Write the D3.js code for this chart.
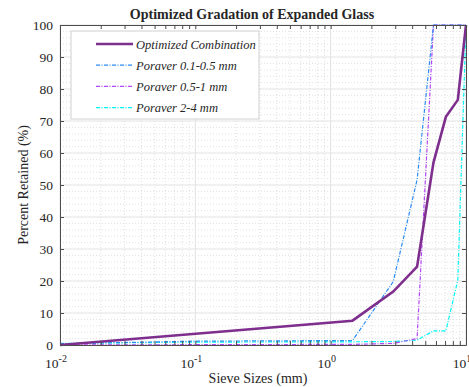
<!DOCTYPE html>
<html>
<head>
<meta charset="utf-8">
<script src="https://cdn.jsdelivr.net/npm/d3@7"></script>
<style>
  body { margin: 0; background: #fff; }
  text { font-family: "Liberation Serif", "Times New Roman", serif; fill: #262626; }
</style>
</head>
<body>
<div id="chart"></div>
<script>
// svg container dimensions
var svgWidth = 469,
	svgHeight = 387;

var margin = { top: 25, right: 3, bottom: 42, left: 60 };

var width = svgWidth - margin.left - margin.right,
	height = svgHeight - margin.top - margin.bottom;

// data
var sieveSizes = [0.01, 1.45, 2.9, 4.35, 5.75, 7.1, 8.7, 10];
var optimized = [0, 7.6, 16.7, 24.5, 57, 71.3, 76.6, 100];

var finesSizes = [0.01, 0.1, 1.45, 2.9, 4.35, 5.75, 7.1, 8.7, 10];
var poraver01 = [0.4, 1.2, 1.4, 19.8, 51.6, 100, 100, 100, 100];
var poraver05 = [0, 0.1, 0.2, 0.5, 2, 100, 100, 100, 100];
var poraver24 = [0.5, 0.9, 1.0, 1.1, 1.5, 4.4, 4.4, 20.3, 100];

var seriesNames = ['Optimized Combination', 'Poraver 0.1-0.5 mm', 'Poraver 0.5-1 mm', 'Poraver 2-4 mm'];
var yTicks = [0, 10, 20, 30, 40, 50, 60, 70, 80, 90, 100];
var xTicks = [0.01, 0.1, 1, 10];
var xExponents = ['-2', '-1', '0', '1'];

var dashDot = '4,1.5,1,1.5';
var series = [
	{ name: seriesNames[0], x: sieveSizes, y: optimized, color: '#7e2f8e', w: 2.6, dash: null },
	{ name: seriesNames[1], x: finesSizes, y: poraver01, color: '#2b8cf5', w: 1.2, dash: dashDot },
	{ name: seriesNames[2], x: finesSizes, y: poraver05, color: '#b048f8', w: 1.2, dash: dashDot },
	{ name: seriesNames[3], x: finesSizes, y: poraver24, color: '#00f5f5', w: 1.2, dash: dashDot }
];

var svg = d3.select('#chart')
	.append('svg')
	.attr('width', svgWidth)
	.attr('height', svgHeight);

var chartGroup = svg.append('g')
	.attr('transform', `translate(${margin.left},${margin.top})`);

var xScale = d3.scaleLog().domain([0.01, 10]).range([0, width]),
	yScale = d3.scaleLinear().domain([0, 100]).range([height, 0]);

// minor tick values
var xMinor = [];
[0.01, 0.1, 1].forEach(function(b) {
	for (var k = 2; k <= 9; k++) xMinor.push(b * k);
});
var yMinor = d3.range(0, 101, 2).filter(v => v % 10 !== 0);

// grid: minor dotted, major solid
var grid = chartGroup.append('g');
grid.selectAll('.xminor').data(xMinor).enter().append('line')
	.attr('x1', d => xScale(d)).attr('x2', d => xScale(d))
	.attr('y1', 0).attr('y2', height)
	.attr('stroke', '#d4d4d4').attr('stroke-width', 0.7).attr('stroke-dasharray', '1,2');
grid.selectAll('.yminor').data(yMinor).enter().append('line')
	.attr('x1', 0).attr('x2', width)
	.attr('y1', d => yScale(d)).attr('y2', d => yScale(d))
	.attr('stroke', '#d4d4d4').attr('stroke-width', 0.7).attr('stroke-dasharray', '1,2');
grid.selectAll('.xmajor').data(xTicks).enter().append('line')
	.attr('x1', d => xScale(d)).attr('x2', d => xScale(d))
	.attr('y1', 0).attr('y2', height)
	.attr('stroke', '#e2e2e2').attr('stroke-width', 1);
grid.selectAll('.ymajor').data(yTicks).enter().append('line')
	.attr('x1', 0).attr('x2', width)
	.attr('y1', d => yScale(d)).attr('y2', d => yScale(d))
	.attr('stroke', '#e2e2e2').attr('stroke-width', 1);

// lines
var line = d3.line()
	.x(d => xScale(d[0]))
	.y(d => yScale(d[1]));

chartGroup.append('g').selectAll('path')
	.data(series.slice().reverse())
	.enter()
	.append('path')
	.attr('d', s => line(s.x.map((v, i) => [v, s.y[i]])))
	.attr('fill', 'none')
	.attr('stroke', s => s.color)
	.attr('stroke-width', s => s.w)
	.attr('stroke-dasharray', s => s.dash);

// axes with inward ticks on all four sides
var frame = '#4d4d4d';
var bottomAxis = chartGroup.append('g')
	.attr('transform', `translate(0,${height})`)
	.call(d3.axisBottom(xScale).tickValues(xTicks.concat(xMinor)).tickSizeInner(-4).tickSizeOuter(0).tickFormat(''));
var topAxis = chartGroup.append('g')
	.call(d3.axisTop(xScale).tickValues(xTicks.concat(xMinor)).tickSizeInner(-4).tickSizeOuter(0).tickFormat(''));
var leftAxis = chartGroup.append('g')
	.call(d3.axisLeft(yScale).tickValues(yTicks).tickSizeInner(-4).tickSizeOuter(0).tickPadding(7));
var rightAxis = chartGroup.append('g')
	.attr('transform', `translate(${width},0)`)
	.call(d3.axisRight(yScale).tickValues(yTicks).tickSizeInner(-4).tickSizeOuter(0).tickFormat(''));

[bottomAxis, topAxis, leftAxis, rightAxis].forEach(function(a) {
	a.select('.domain').attr('stroke', frame);
	a.selectAll('.tick line').attr('stroke', frame);
});
leftAxis.selectAll('.tick text')
	.style('font-size', '13.5px')
	.attr('fill', '#262626');

// x tick labels as 10 with superscripts
var xLabels = chartGroup.append('g');
xTicks.forEach(function(v, i) {
	var t = xLabels.append('text')
		.attr('x', xScale(v) - 4)
		.attr('y', height + 23)
		.attr('text-anchor', 'middle')
		.style('font-size', '13.5px');
	t.append('tspan').text('10');
	t.append('tspan').attr('dy', -6).style('font-size', '10px').text(xExponents[i]);
});

// title and axis labels
svg.append('text')
	.attr('x', 252)
	.attr('y', 19)
	.attr('text-anchor', 'middle')
	.style('font-size', '14px')
	.style('font-weight', 'bold')
	.attr('fill', '#000')
	.text('Optimized Gradation of Expanded Glass');

svg.append('text')
	.attr('x', 258)
	.attr('y', 383)
	.attr('text-anchor', 'middle')
	.style('font-size', '14px')
	.text('Sieve Sizes (mm)');

svg.append('text')
	.attr('transform', `translate(28,${margin.top + height / 2})rotate(-90)`)
	.attr('text-anchor', 'middle')
	.style('font-size', '14px')
	.text('Percent Retained (%)');

// legend
var legend = chartGroup.append('g')
	.attr('transform', 'translate(11,6)');
legend.append('rect')
	.attr('width', 188).attr('height', 88)
	.attr('fill', '#fff').attr('stroke', '#d0d0d0').attr('stroke-width', 1);
var rows = legend.selectAll('.row').data(series).enter().append('g')
	.attr('transform', (d, i) => `translate(0,${13 + i * 21.2})`);
rows.append('line')
	.attr('x1', 25).attr('x2', 62)
	.attr('stroke', s => s.color)
	.attr('stroke-width', s => s.w)
	.attr('stroke-dasharray', s => s.dash);
rows.append('text')
	.attr('x', 65)
	.attr('y', 4.5)
	.style('font-size', '12.5px')
	.style('font-style', 'italic')
	.text(s => s.name);
</script>
</body>
</html>
